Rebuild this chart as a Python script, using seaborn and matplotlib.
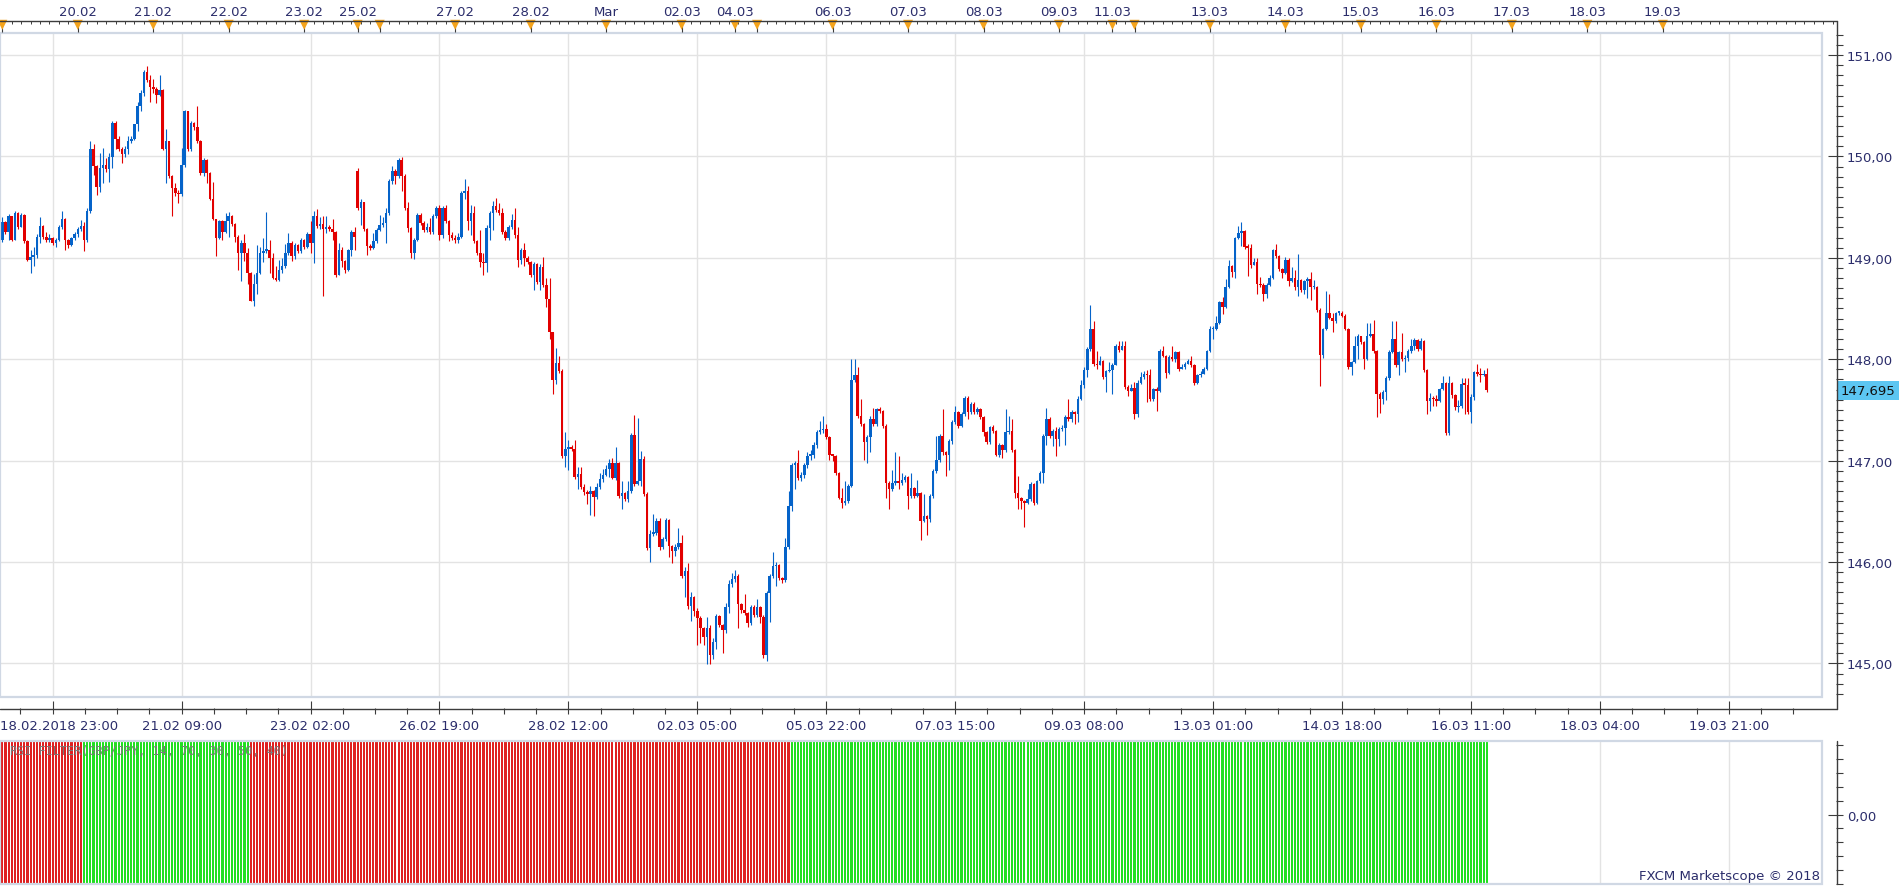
import numpy as np
import pandas as pd
import matplotlib
matplotlib.use("Agg")
import matplotlib.pyplot as plt
import matplotlib.transforms as mtrans
from matplotlib.lines import Line2D
from matplotlib.patches import Rectangle
from matplotlib.ticker import FixedLocator, MultipleLocator, FuncFormatter
import seaborn as sns

# GBP/JPY hourly candles, 19.02 - 16.03.2018, prices in 1/100 yen above 145.00
closes = [
    435, 425, 441, 418, 444, 430, 442, 417, 398, 401,
    403, 421, 431, 421, 418, 420, 415, 418, 430, 438,
    418, 413, 420, 423, 428, 431, 418, 446, 507, 491,
    470, 489, 492, 488, 499, 533, 517, 507, 502, 507,
    515, 517, 532, 550, 563, 583, 575, 568, 566, 561,
    565, 507, 515, 481, 469, 464, 463, 492, 545, 507,
    533, 529, 515, 484, 496, 484, 458, 438, 420, 436,
    425, 436, 441, 433, 421, 405, 415, 405, 385, 357,
    374, 385, 405, 407, 408, 400, 380, 378, 388, 392,
    405, 415, 402, 413, 407, 418, 411, 423, 415, 441,
    431, 433, 428, 430, 428, 425, 383, 408, 397, 388,
    408, 425, 421, 449, 455, 428, 412, 410, 417, 427,
    432, 434, 444, 476, 486, 481, 496, 481, 449, 429,
    405, 418, 442, 434, 427, 430, 425, 441, 449, 422,
    449, 436, 422, 420, 418, 421, 464, 466, 436, 444,
    417, 405, 396, 395, 429, 444, 451, 447, 444, 425,
    420, 430, 437, 422, 398, 408, 400, 396, 383, 394,
    376, 391, 373, 359, 327, 279, 296, 288, 205, 211,
    213, 211, 184, 187, 174, 169, 167, 170, 164, 174,
    182, 186, 192, 198, 183, 198, 165, 168, 162, 170,
    225, 177, 180, 202, 167, 114, 128, 129, 140, 115,
    123, 141, 116, 111, 115, 119, 86, 91, 57, 65,
    52, 45, 35, 26, 35, 8, 21, 47, 38, 33,
    56, 78, 83, 86, 59, 53, 50, 40, 56, 48,
    56, 46, 8, 69, 86, 96, 97, 84, 82, 115,
    155, 196, 198, 183, 186, 196, 205, 206, 215, 228,
    230, 231, 223, 206, 205, 188, 163, 158, 160, 175,
    279, 284, 244, 236, 218, 223, 241, 236, 251, 249,
    234, 178, 172, 178, 180, 178, 181, 184, 165, 173,
    165, 168, 140, 145, 142, 165, 190, 201, 224, 208,
    206, 219, 238, 248, 234, 246, 262, 248, 256, 248,
    251, 243, 228, 218, 233, 229, 206, 215, 210, 228,
    229, 210, 168, 163, 160, 158, 162, 177, 158, 180,
    188, 224, 241, 224, 229, 221, 231, 232, 243, 241,
    248, 246, 261, 275, 289, 310, 330, 295, 294, 298,
    282, 288, 289, 294, 313, 309, 313, 273, 269, 272,
    246, 277, 282, 285, 284, 261, 271, 269, 308, 303,
    286, 302, 300, 307, 290, 292, 295, 298, 294, 277,
    284, 285, 290, 308, 330, 330, 336, 356, 351, 371,
    392, 386, 420, 424, 426, 411, 410, 393, 396, 374,
    373, 364, 373, 380, 408, 402, 389, 385, 398, 377,
    380, 371, 378, 368, 377, 379, 371, 371, 349, 304,
    330, 346, 341, 338, 346, 346, 343, 330, 292, 297,
    313, 323, 317, 300, 323, 325, 308, 266, 261, 268,
    281, 307, 320, 294, 307, 300, 301, 308, 313, 319,
    310, 318, 289, 259, 262, 261, 259, 271, 277, 227,
    277, 265, 253, 254, 276, 275, 248, 263, 287, 285,
    284, 285, 269.5,
]
highs = [
    440, 436, 443, 440, 446, 445, 444, 443, 418, 408,
    411, 423, 440, 432, 425, 423, 421, 420, 432, 446,
    439, 419, 421, 425, 430, 437, 435, 449, 515, 512,
    492, 503, 508, 498, 503, 535, 535, 520, 509, 510,
    520, 520, 532, 554, 565, 585, 589, 580, 576, 568,
    580, 566, 527, 515, 482, 474, 467, 508, 546, 544,
    535, 534, 550, 516, 498, 497, 485, 475, 438, 437,
    437, 444, 445, 442, 434, 422, 418, 423, 410, 386,
    384, 413, 411, 420, 445, 418, 405, 392, 398, 400,
    414, 424, 417, 415, 414, 420, 419, 425, 436, 446,
    448, 440, 441, 441, 432, 438, 426, 415, 411, 398,
    409, 427, 430, 489, 458, 455, 429, 414, 424, 429,
    442, 440, 449, 478, 491, 488, 498, 499, 483, 455,
    430, 420, 444, 444, 436, 434, 439, 443, 451, 452,
    451, 452, 437, 425, 422, 424, 466, 478, 471, 452,
    451, 418, 427, 405, 432, 446, 456, 459, 454, 449,
    427, 432, 443, 449, 430, 410, 415, 402, 397, 396,
    395, 394, 401, 380, 380, 327, 311, 303, 290, 228,
    220, 215, 220, 194, 194, 177, 171, 175, 171, 178,
    188, 192, 196, 202, 203, 213, 199, 180, 169, 180,
    227, 245, 242, 209, 205, 169, 132, 147, 143, 143,
    125, 143, 142, 117, 118, 134, 127, 95, 99, 70,
    66, 55, 47, 36, 46, 38, 25, 49, 48, 39,
    60, 82, 89, 92, 88, 60, 68, 51, 58, 58,
    64, 57, 48, 71, 88, 110, 100, 98, 85, 124,
    170, 198, 200, 210, 189, 198, 208, 210, 218, 230,
    239, 244, 236, 224, 207, 206, 189, 173, 180, 177,
    300, 300, 292, 261, 237, 225, 244, 252, 252, 253,
    250, 236, 180, 191, 208, 205, 188, 186, 185, 188,
    174, 181, 169, 167, 146, 167, 192, 224, 226, 251,
    209, 221, 240, 254, 249, 248, 264, 264, 258, 258,
    253, 252, 244, 229, 234, 235, 230, 217, 216, 251,
    244, 241, 211, 185, 164, 161, 172, 179, 178, 181,
    190, 226, 252, 243, 231, 233, 233, 235, 245, 261,
    250, 249, 264, 279, 292, 312, 353, 338, 308, 303,
    299, 289, 297, 296, 315, 318, 318, 318, 275, 276,
    278, 279, 287, 288, 289, 290, 272, 273, 310, 313,
    304, 304, 313, 308, 308, 295, 297, 300, 303, 295,
    285, 288, 292, 309, 333, 333, 343, 357, 361, 379,
    398, 393, 421, 431, 435, 427, 414, 414, 400, 400,
    381, 375, 375, 383, 409, 414, 403, 390, 401, 400,
    391, 388, 404, 379, 378, 381, 386, 378, 372, 350,
    331, 367, 364, 346, 347, 348, 348, 345, 331, 298,
    323, 325, 323, 318, 336, 336, 339, 309, 268, 270,
    283, 309, 338, 338, 308, 326, 304, 310, 320, 321,
    320, 321, 319, 290, 267, 264, 265, 272, 283, 278,
    283, 278, 266, 260, 281, 281, 281, 266, 288, 295,
    291, 289, 291,
]
lows = [
    416, 423, 418, 417, 418, 428, 430, 415, 397, 385,
    392, 400, 415, 419, 416, 416, 413, 411, 417, 428,
    408, 410, 412, 418, 421, 426, 407, 416, 444, 482,
    462, 465, 474, 485, 475, 489, 507, 505, 493, 499,
    502, 513, 516, 525, 545, 560, 573, 554, 563, 553,
    560, 506, 474, 479, 441, 461, 454, 461, 490, 505,
    505, 526, 513, 482, 481, 474, 457, 437, 402, 419,
    418, 424, 421, 431, 416, 388, 377, 397, 374, 357,
    352, 364, 384, 396, 405, 385, 379, 377, 377, 385,
    390, 403, 397, 399, 405, 405, 409, 410, 405, 395,
    429, 428, 362, 424, 426, 418, 381, 388, 391, 385,
    387, 402, 408, 447, 432, 426, 403, 408, 409, 415,
    426, 430, 415, 442, 473, 473, 479, 466, 447, 425,
    400, 399, 417, 432, 425, 425, 423, 423, 439, 418,
    420, 434, 417, 418, 415, 415, 420, 458, 427, 422,
    415, 403, 391, 383, 386, 418, 427, 445, 442, 423,
    418, 418, 428, 420, 391, 394, 392, 394, 381, 368,
    374, 368, 371, 351, 320, 266, 276, 286, 203, 194,
    191, 209, 182, 172, 172, 166, 157, 146, 145, 162,
    172, 179, 185, 184, 182, 181, 163, 152, 160, 159,
    168, 175, 176, 175, 165, 112, 100, 126, 127, 112,
    113, 121, 105, 99, 106, 113, 84, 65, 54, 42,
    47, 18, 20, 18, -1, -1, 4, 14, 36, 10,
    30, 50, 75, 80, 35, 50, 48, 36, 38, 46,
    46, 40, 5, 2, 41, 84, 76, 82, 79, 80,
    113, 150, 172, 181, 180, 183, 193, 201, 203, 212,
    226, 227, 221, 201, 200, 186, 162, 153, 156, 158,
    174, 278, 242, 234, 201, 198, 208, 234, 234, 247,
    232, 163, 152, 170, 176, 172, 176, 179, 152, 163,
    163, 164, 122, 139, 127, 139, 163, 188, 199, 206,
    185, 191, 216, 236, 232, 233, 244, 241, 246, 246,
    246, 241, 224, 216, 216, 227, 205, 204, 203, 208,
    226, 208, 163, 152, 152, 135, 157, 160, 156, 157,
    178, 178, 215, 222, 214, 205, 214, 229, 215, 239,
    238, 236, 238, 260, 272, 282, 308, 293, 290, 296,
    280, 268, 287, 266, 305, 307, 310, 271, 264, 270,
    241, 243, 276, 280, 258, 259, 259, 249, 268, 302,
    281, 285, 298, 297, 288, 290, 290, 296, 292, 275,
    276, 282, 285, 289, 307, 320, 329, 335, 345, 350,
    370, 381, 380, 419, 412, 409, 382, 390, 393, 364,
    371, 357, 360, 372, 379, 400, 387, 380, 384, 372,
    376, 368, 362, 366, 364, 360, 358, 369, 347, 274,
    301, 329, 340, 327, 336, 344, 342, 329, 290, 284,
    296, 300, 315, 290, 299, 322, 306, 243, 247, 256,
    260, 279, 306, 292, 284, 298, 287, 298, 306, 309,
    308, 309, 287, 246, 249, 254, 254, 258, 270, 225,
    225, 262, 250, 248, 252, 246, 246, 237, 260, 283,
    278, 283, 268,
]
# open = previous close, except session starts
gap_opens = {0: 418, 113: 486}

# RSI filter state per candle, as run lengths
signal_runs = [("down", 26), ("up", 53), ("down", 172), ("up", 222)]

# top time scale: day starts (candle index) and their labels
day_idx = [0, 24, 48, 72, 96, 113, 120, 144, 168, 192, 216, 233, 240,
           264, 288, 312, 336, 353, 360, 384, 408, 432, 456, 480, 504, 528]
day_labels = ["", "20.02", "21.02", "22.02", "23.02", "25.02", "", "27.02", "28.02",
              "Mar", "02.03", "04.03", "", "06.03", "07.03", "08.03", "09.03",
              "11.03", "", "13.03", "14.03", "15.03", "16.03", "17.03", "18.03", "19.03"]

# bottom time scale
grid_idx = [16, 57, 98, 139, 180, 221, 262, 303, 344, 385, 426, 467, 508, 549]
grid_labels = ["18.02.2018 23:00", "21.02 09:00", "23.02 02:00", "26.02 19:00",
               "28.02 12:00", "02.03 05:00", "05.03 22:00", "07.03 15:00",
               "09.03 08:00", "13.03 01:00", "14.03 18:00", "16.03 11:00",
               "18.03 04:00", "19.03 21:00"]
price_ticks = [145, 146, 147, 148, 149, 150, 151]

sns.set_theme(style="white")
plt.rcParams["font.family"] = ["DejaVu Sans"]

W, H = 1903, 887
NAVY = "#2b2d6b"
AXIS = "#3c3c3c"
FRAME = "#d0d8e4"
GRID = "#e3e3e3"
UP, DOWN = "#0563c9", "#e20000"
FS = 9.5

X0, STEP = 2.3, 3.145          # pixel position of candle 0 and candle spacing


def px2i(px):
    return (px - X0) / STEP


def box(x0, y0, x1, y1):
    return [x0 / W, 1 - y1 / H, (x1 - x0) / W, (y1 - y0) / H]


def fig_line(xs, ys, **kw):
    fig.add_artist(Line2D([x / W for x in xs], [1 - y / H for y in ys],
                          transform=fig.transFigure, **kw))


fig = plt.figure(figsize=(W / 100, H / 100), dpi=100)
ax = fig.add_axes(box(0, 34, 1822, 698))
ax_ind = fig.add_axes(box(0, 742, 1822, 885))
ax_top = fig.add_axes(box(0, 0, 1837, 34))

# ---- candles
df = pd.DataFrame({"close": np.array(closes, float) / 100 + 145,
                   "high": np.array(highs, float) / 100 + 145,
                   "low": np.array(lows, float) / 100 + 145})
df["open"] = df["close"].shift(1)
for k, v in gap_opens.items():
    df.loc[k, "open"] = 145 + v / 100
df["up"] = df["close"] >= df["open"]
cols = np.where(df["up"], UP, DOWN)
hi = np.maximum(df["high"], np.maximum(df["open"], df["close"]))
lo = np.minimum(df["low"], np.minimum(df["open"], df["close"]))
ax.vlines(df.index, lo, hi, colors=cols, lw=0.8, zorder=3)
body_lo = np.minimum(df["open"], df["close"])
body_h = np.maximum((df["close"] - df["open"]).abs(), 0.012)
ax.bar(df.index, body_h, bottom=body_lo, width=0.8, color=cols, linewidth=0, zorder=4)

xl = (px2i(0), px2i(1822))
ax.set_xlim(xl)
ax.set_ylim(151 - (698 - 56) / 101.4, 151 + (56 - 34) / 101.4)

ax.set_xticks(grid_idx)
ax.set_xticklabels([])
ax.xaxis.set_minor_locator(FixedLocator(np.arange(16 - 10.25, xl[1], 10.25)))
ax.yaxis.tick_right()
ax.set_yticks(price_ticks)
ax.yaxis.set_minor_locator(MultipleLocator(0.1))
ax.yaxis.set_major_formatter(FuncFormatter(lambda v, p: f"{v:.2f}".replace(".", ",")))
ax.grid(True, which="major", color=GRID, lw=1.0)
ax.set_axisbelow(True)
for s in ["top", "left", "right", "bottom"]:
    ax.spines[s].set_visible(False)
ax.spines["right"].set_position(("outward", 15))
ax.spines["bottom"].set_position(("outward", 12))
ax.tick_params(axis="y", which="major", direction="in", length=10.5, width=0.8,
               color=AXIS, pad=3, labelsize=FS, labelcolor=NAVY, right=True, left=False)
ax.tick_params(axis="y", which="minor", direction="in", length=5, width=0.8,
               color=AXIS, right=True, left=False)
ax.tick_params(axis="x", which="major", direction="in", length=9.5, width=0.8,
               color=AXIS, bottom=True)
ax.tick_params(axis="x", which="minor", direction="in", length=4.3, width=0.8,
               color=AXIS, bottom=True)
ax.add_patch(Rectangle((0, 0), 1, 1, transform=ax.transAxes, fill=False,
                       ec=FRAME, lw=1.6, clip_on=False, zorder=5))

for i, (g, lab) in enumerate(zip(grid_idx, grid_labels)):
    ax.text(xl[0] if i == 0 else g, -29 / 664, lab, transform=ax.get_xaxis_transform(),
            ha="left" if i == 0 else "center", va="center", fontsize=FS, color=NAVY,
            clip_on=False)

last = df["close"].iloc[-1]
ax.text(1841 / 1822, last, f"{last:.3f}".replace(".", ","),
        transform=mtrans.blended_transform_factory(ax.transAxes, ax.transData),
        ha="left", va="center", fontsize=FS, color="#111111", clip_on=False, zorder=6,
        bbox=dict(boxstyle="square,pad=0.22", fc="#5cc6f2", ec="none"))

# ---- RSI filter panel
sig = np.repeat([s for s, n in signal_runs], [n for s, n in signal_runs])
ind = pd.DataFrame({"idx": np.arange(len(sig)), "span": 2.06, "state": sig})
sns.barplot(data=ind, x="idx", y="span", hue="state",
            palette={"up": "#00ff00", "down": "#ff0000"}, native_scale=True,
            dodge=False, width=0.68, errorbar=None, legend=False,
            bottom=-1.0, linewidth=0, ax=ax_ind)
ax_ind.set_xlim(xl)
ax_ind.set_ylim(-1, 1.06)
ax_ind.set_xlabel("")
ax_ind.set_ylabel("")
ax_ind.set_xticks(grid_idx)
ax_ind.set_xticklabels([])
ax_ind.tick_params(axis="x", length=0)
ax_ind.grid(True, axis="x", color=GRID, lw=1.0)
ax_ind.grid(False, axis="y")
ax_ind.set_axisbelow(True)
ax_ind.yaxis.tick_right()
ax_ind.set_yticks([0])
ax_ind.yaxis.set_minor_locator(MultipleLocator(0.2))
ax_ind.yaxis.set_major_formatter(FuncFormatter(lambda v, p: f"{v:.2f}".replace(".", ",")))
for s in ["top", "left", "right", "bottom"]:
    ax_ind.spines[s].set_visible(False)
ax_ind.spines["right"].set_position(("outward", 15))
ax_ind.tick_params(axis="y", which="major", direction="in", length=10.5, width=0.8,
                   color=AXIS, pad=3, labelsize=FS, labelcolor=NAVY, right=True, left=False)
ax_ind.tick_params(axis="y", which="minor", direction="in", length=5, width=0.8,
                   color=AXIS, right=True, left=False)
ax_ind.add_patch(Rectangle((0, 0), 1, 1, transform=ax_ind.transAxes, fill=False,
                           ec=FRAME, lw=1.6, clip_on=False, zorder=5))
ax_ind.text(10 / 1822, (885 - 752) / 143, "RSI FILTER(GBP/JPY, 14, 70, 30, 50, 40)",
            transform=ax_ind.transAxes, family="DejaVu Sans Mono", fontsize=8.5,
            color="#7a7a7a", va="center", ha="left", zorder=6)
ax_ind.text(1820 / 1822, (885 - 877) / 143, "FXCM Marketscope \u00a9 2018",
            transform=ax_ind.transAxes, fontsize=FS, color=NAVY, va="center",
            ha="right", zorder=6)

# ---- top date strip
ax_top.set_xlim(xl[0], px2i(1837))
ax_top.set_ylim(34, 0)
ax_top.axis("off")
ax_top.vlines(np.arange(0, px2i(1837), 3), 21.7, 25, color=AXIS, lw=0.7)
ax_top.vlines(day_idx, 21.7, 33, color=AXIS, lw=0.8)
ax_top.scatter(day_idx, [25.8] * len(day_idx), marker="v", s=52, color="#f5a31a",
               edgecolors="none", zorder=3, clip_on=False)
for d, lab in zip(day_idx, day_labels):
    ax_top.text(d, 12, lab, ha="center", va="center", fontsize=FS, color=NAVY)

# axis lines
fig_line([0, 1837], [21.7, 21.7], color=AXIS, lw=1.0)
fig_line([1837, 1837], [21.7, 710], color=AXIS, lw=1.0)
fig_line([0, 1837], [710, 710], color=AXIS, lw=1.0)
fig_line([1837, 1837], [742, 885], color=AXIS, lw=1.0)

fig.savefig("out.png", dpi=100)
